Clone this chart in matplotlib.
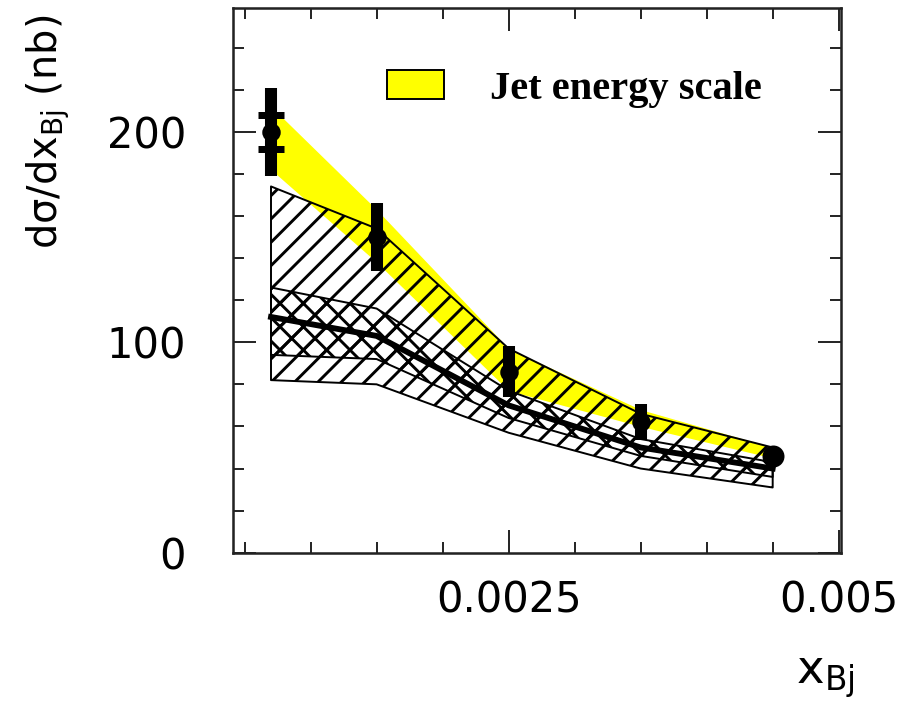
"""Dijet cross section vs x_Bj with jet energy scale band and NLO predictions."""

import matplotlib

matplotlib.use("Agg")
import matplotlib.pyplot as plt
from matplotlib.patches import Patch
from matplotlib.ticker import MultipleLocator

# measured points
x_bj = [0.0007, 0.0015, 0.0025, 0.0035, 0.0045]
xsec = [200, 150, 86, 62, 46]
tot_err = [21, 16, 12, 8.5, 2]
stat_err_first = 8

# jet energy scale band
jes_lo = [182, 138, 77, 60, 45]
jes_hi = [212, 163, 97, 68, 50]

# theory bands
wide_lo = [82, 80, 57, 40, 31]
wide_hi = [174, 154, 97, 66, 50]
cross_lo = [94, 92, 64, 46, 36]
cross_hi = [126, 116, 77, 54, 43]
theory = [112, 103, 70, 50, 40]

x_ticks = [0.0025, 0.005]
x_ticklabels = ["0.0025", "0.005"]
y_ticks = [0, 100, 200]

DPI = 140
plt.rcParams["mathtext.default"] = "regular"
plt.rcParams["hatch.linewidth"] = 1.5
plt.rcParams["font.family"] = "DejaVu Sans"

fig = plt.figure(figsize=(922 / DPI, 709 / DPI), dpi=DPI)
ax = fig.add_axes([0.2524, 0.2204, 0.6594, 0.769])

ax.fill_between(x_bj, jes_lo, jes_hi, color="#ffff00", lw=0, zorder=1)
ax.fill_between(x_bj, wide_lo, wide_hi, facecolor="none", edgecolor="black",
                hatch="//", lw=1.0, zorder=2)
ax.fill_between(x_bj, cross_lo, cross_hi, facecolor="none", edgecolor="black",
                hatch="xx", lw=1.0, zorder=3)
ax.plot(x_bj, theory, color="black", lw=3.0, zorder=4)

ax.errorbar(x_bj, xsec, yerr=tot_err, fmt="o", color="black", ms=8.5,
            elinewidth=6.2, capsize=0, zorder=5)
ax.errorbar(x_bj[:1], xsec[:1], yerr=[stat_err_first], fmt="none", ecolor="black",
            elinewidth=0, capsize=6.9, capthick=3.6, zorder=6)
ax.plot(x_bj[-1:], xsec[-1:], "o", color="black", ms=10.3, zorder=6)

ax.set_xlim(0.00041, 0.005015)
ax.set_ylim(0, 259)
ax.set_xticks(x_ticks)
ax.set_xticklabels(x_ticklabels)
ax.set_yticks(y_ticks)
ax.xaxis.set_minor_locator(MultipleLocator(0.0005))
ax.yaxis.set_minor_locator(MultipleLocator(20))
ax.tick_params(which="both", direction="in", top=True, right=True, width=1.0,
               color="#222222")
ax.tick_params(which="major", length=11.8, labelsize=21.4)
ax.tick_params(which="minor", length=5.7)
ax.tick_params(axis="x", which="major", pad=14)
ax.tick_params(axis="y", which="major", pad=24)
for spine in ax.spines.values():
    spine.set_linewidth(1.3)
    spine.set_color("#222222")

handle = Patch(facecolor="#ffff00", edgecolor="black", lw=1.0)
ax.legend([handle], ["Jet energy scale"], loc="center left",
          bbox_to_anchor=(0.254, 0.851), frameon=False, borderpad=0,
          borderaxespad=0, handlelength=1.4, handleheight=0.72,
          handletextpad=1.15,
          prop={"family": "Liberation Serif", "weight": "bold", "size": 20.8})

fig.text(0.052, 0.979, "dσ/dx$_{Bj}$ (nb)", rotation=90, ha="center",
         va="top", fontsize=20.5)
fig.text(0.895, 0.045, "x$_{Bj}$", ha="center", va="center", fontsize=24)

fig.savefig("out.png", dpi=DPI)
